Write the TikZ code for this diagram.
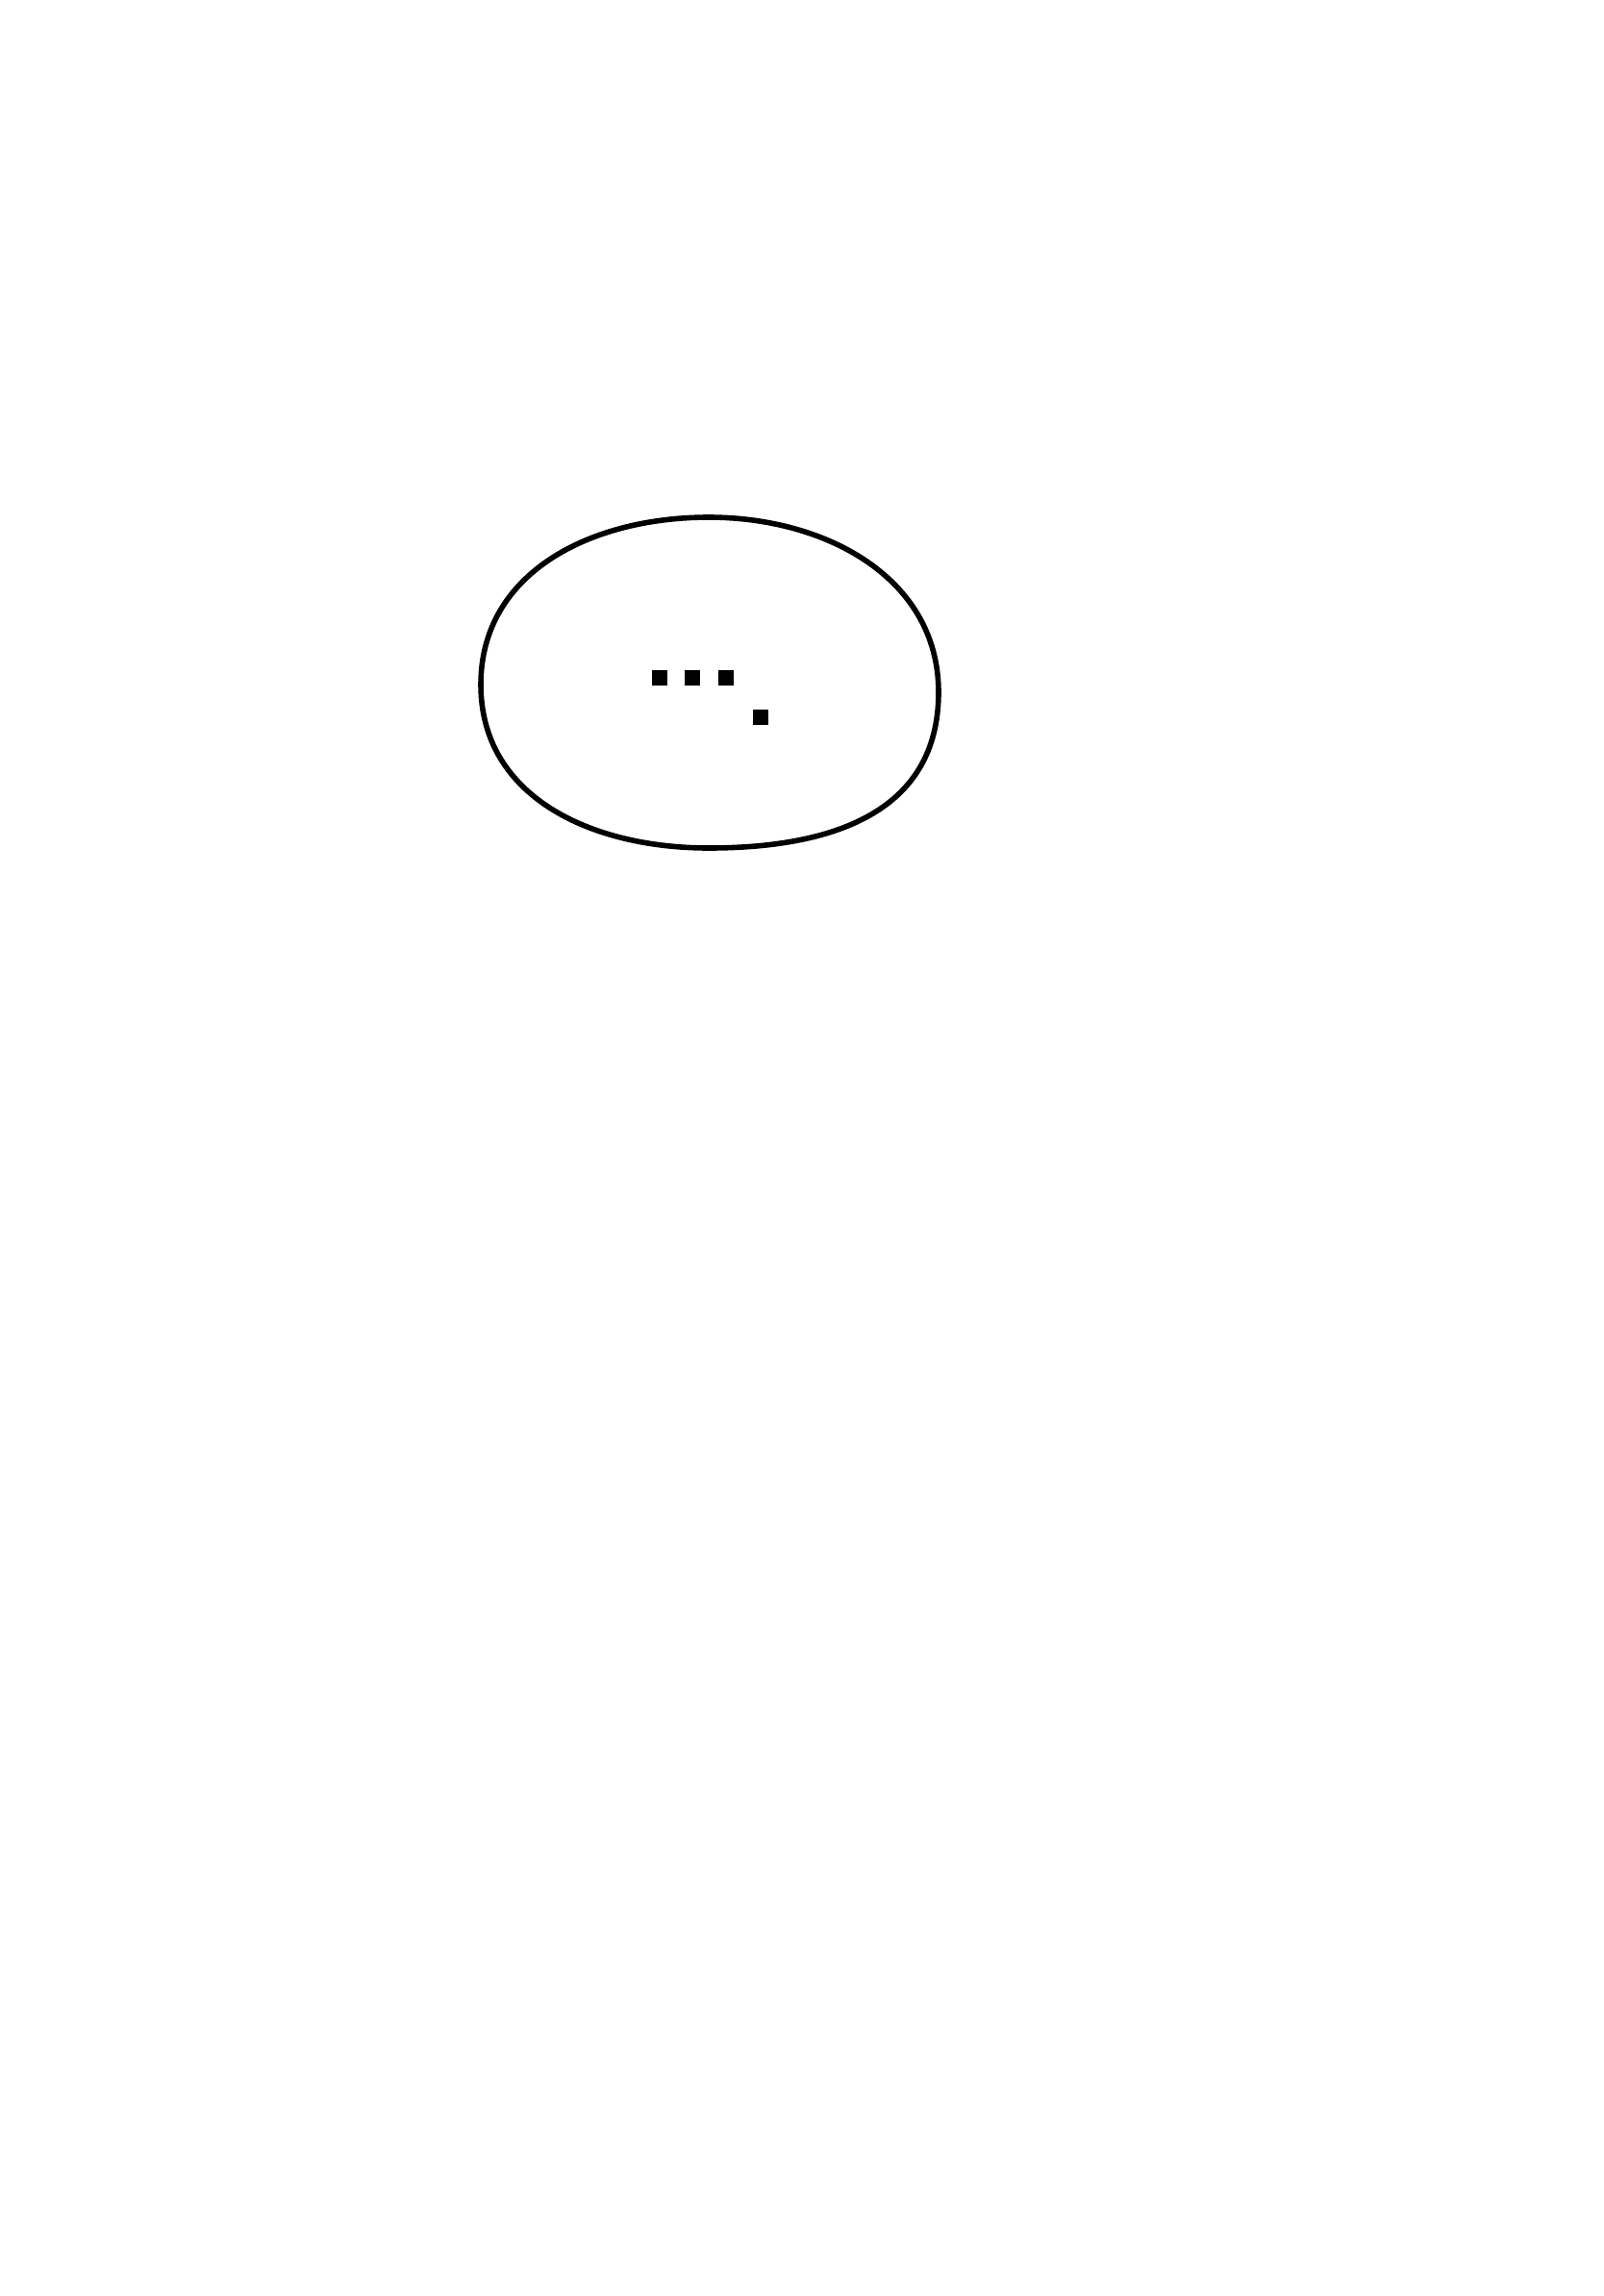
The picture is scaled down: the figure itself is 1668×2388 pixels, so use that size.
\documentclass[tikz,border=0pt]{standalone}
\begin{document}
\begin{tikzpicture}[x=0.25pt,y=-0.25pt,
  outline/.style={draw=black,line width=1.4pt},
  dotbox/.style={fill=black,inner sep=0pt,minimum size=3.8pt,draw=none}]
\useasboundingbox[fill=white] (0,0) rectangle (1668,2388);
% blob: centre (737,710), half-width 237.5, half-height 172
\draw[outline] (500,712) .. controls (500,595) and (615,538) .. (737,538)
  .. controls (860,538) and (976,602) .. (976,720)
  .. controls (976,848) and (860,882) .. (737,882)
  .. controls (615,882) and (500,829) .. (500,712) -- cycle;
\node[dotbox] (d1) at (686,705) {};
\node[dotbox] (d2) at (720,705) {};
\node[dotbox] (d3) at (755,705) {};
\node[dotbox] (d4) at (791,746) {};
\end{tikzpicture}
\end{document}
